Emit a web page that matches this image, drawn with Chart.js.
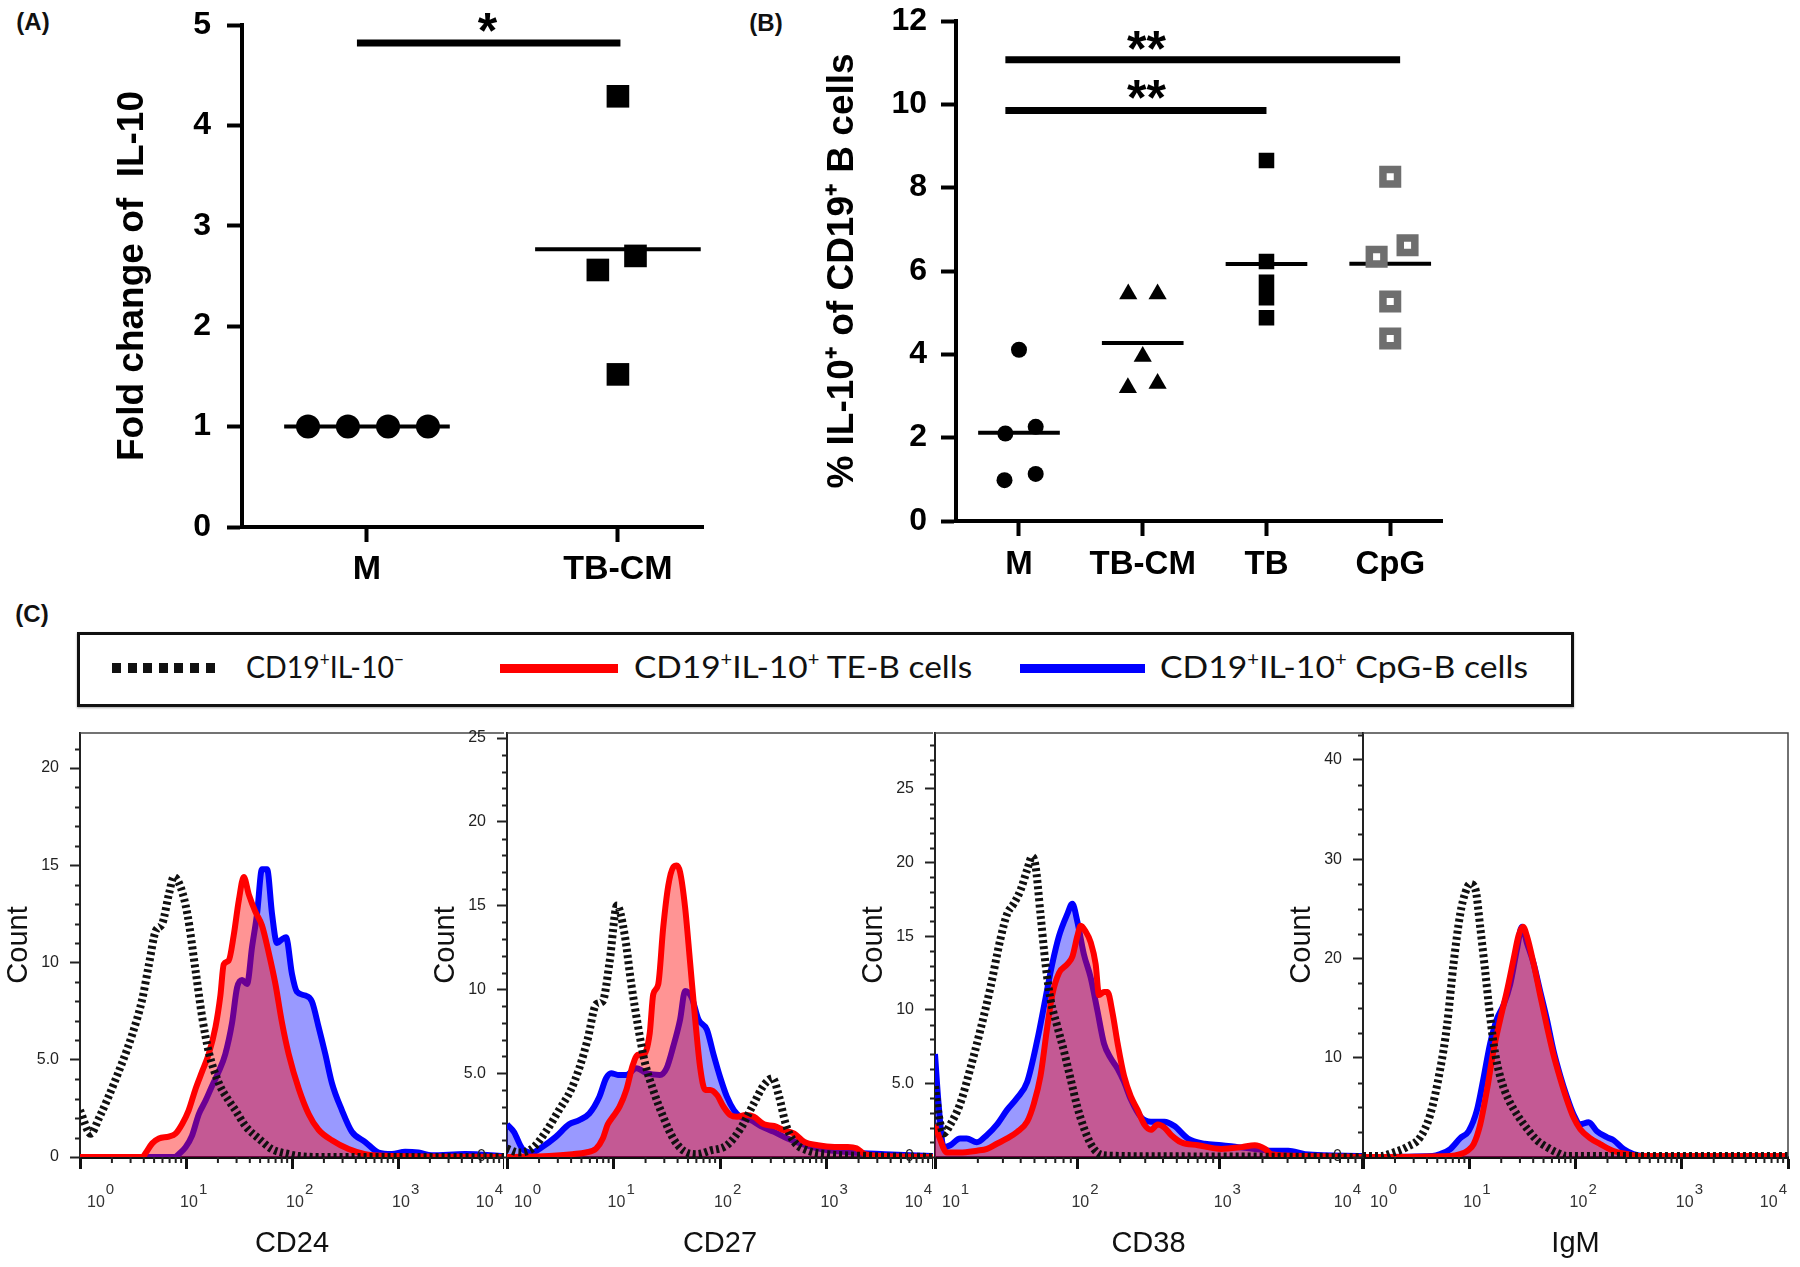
<!DOCTYPE html>
<html>
<head>
<meta charset="utf-8">
<script src="https://cdn.jsdelivr.net/npm/chart.js@4.4.1/dist/chart.umd.min.js"></script>
<style>
  html, body { margin: 0; padding: 0; background: #fff; }
  #page { position: relative; width: 1800px; height: 1267px; overflow: hidden; background: #fff; font-family: 'Liberation Sans', Arial, sans-serif; }
  canvas { position: absolute; }
  .tag { position: absolute; font-weight: bold; font-size: 24px; color: #111; transform: translate(-50%, -50%); }
  #legend { position: absolute; left: 77px; top: 632px; width: 1497px; height: 75px; box-sizing: border-box; border: 3px solid #111; box-shadow: 0 1px 2px rgba(0,0,0,0.35); }
  .lg-line { position: absolute; top: 28.5px; height: 9px; }
  .lg-dots { position: absolute; top: 28px; height: 10px; }
  .lg-text { position: absolute; top: 31px; font-family: Lato, 'Open Sans', sans-serif; font-size: 31px; color: #111; white-space: nowrap; transform-origin: left center; transform: translateY(-50%); line-height: 1; }
  .lg-text sup { font-size: 0.6em; vertical-align: 0.6em; line-height: 0; }
</style>
</head>
<body>
<div id="page">
  <div class="tag" style="left:33px; top:22px;">(A)</div>
  <div class="tag" style="left:766px; top:23px;">(B)</div>
  <div class="tag" style="left:32px; top:614px;">(C)</div>

  <canvas id="chartA" width="720" height="600" style="left:0; top:0;"></canvas>
  <canvas id="chartB" width="720" height="600" style="left:740px; top:0;"></canvas>

  <div id="legend">
    <div class="lg-dots" style="left:32px; width:103px; background: repeating-linear-gradient(90deg, #111 0 9px, transparent 9px 15.6px);"></div>
    <div class="lg-text" data-w="158" style="left:166px;">CD19<sup>+</sup>IL-10<sup>−</sup></div>
    <div class="lg-line" style="left:420px; width:118px; background:#ff0000;"></div>
    <div class="lg-text" data-w="338" style="left:554px;">CD19<sup>+</sup>IL-10<sup>+</sup> TE-B cells</div>
    <div class="lg-line" style="left:940px; width:125px; background:#0000ff;"></div>
    <div class="lg-text" data-w="368" style="left:1080px;">CD19<sup>+</sup>IL-10<sup>+</sup> CpG-B cells</div>
  </div>

  <canvas id="histCD24" width="504" height="542" style="left:0; top:725px;"></canvas>
  <canvas id="histCD27" width="506" height="542" style="left:427px; top:725px;"></canvas>
  <canvas id="histCD38" width="507" height="542" style="left:855px; top:725px;"></canvas>
  <canvas id="histIgM" width="508" height="542" style="left:1283px; top:725px;"></canvas>
</div>

<script>
// ── Data: panel A (fold change of IL-10) ─────────────────────────────────
const groupsA = ['M', 'TB-CM'];
const foldM = [1.0, 1.0, 1.0, 1.0];
const foldTBCM = [4.29, 2.56, 2.70, 1.52];
const jitterA_M = [-0.235, -0.076, 0.084, 0.243];
const jitterA_TBCM = [0.0, -0.08, 0.07, 0.0];
const yTicksA = [0, 1, 2, 3, 4, 5];
const sigA = [{ from: 0.96, to: 2.01, y: 4.82, text: '*', tx: 1.48, ty: 5.0 }];

// ── Data: panel B (% IL-10+ of CD19+ B cells) ────────────────────────────
const groupsB = ['M', 'TB-CM', 'TB', 'CpG'];
const pctM = [4.11, 2.10, 2.26, 0.98, 1.13];
const pctTBCM = [5.45, 5.45, 3.95, 3.20, 3.30];
const pctTB = [8.65, 6.23, 5.73, 5.36, 4.88];
const pctCpG = [8.26, 6.34, 6.62, 5.27, 4.38];
const jitterB_M = [0.0, -0.11, 0.135, -0.117, 0.135];
const jitterB_TBCM = [-0.117, 0.12, 0.0, -0.12, 0.12];
const jitterB_TB = [0, 0, 0, 0, 0];
const jitterB_CpG = [0.0, -0.11, 0.14, 0.0, 0.0];
const yTicksB = [0, 2, 4, 6, 8, 10, 12];
const sigB = [
    { from: 0.89, to: 4.08, y: 11.07, text: '**', tx: 2.03, ty: 11.48 },
    { from: 0.89, to: 3.0, y: 9.85, text: '**', tx: 2.03, ty: 10.29 }
];

// ── Data: panel C histograms, [intensity, count] ─────────────────────────
const decades = [1, 10, 100, 1000, 10000];

const cd24Neg = [[1, 2.4], [1.26, 1.2], [1.51, 2.0], [2.17, 4.0], [3.11, 6.3], [3.86, 8.1], [4.47, 9.9], [5.16, 11.6], [5.97, 12.0], [6.89, 13.5], [7.68, 14.4], [8.87, 13.9], [10.3, 12.5], [12.3, 9.6], [14.2, 7.2], [16.4, 5.4], [20.4, 3.8], [25.3, 2.9], [29.3, 2.4], [36.3, 1.6], [48.5, 0.95], [64.8, 0.4], [93, 0.15], [116, 0.05], [200, 0], [10000, 0]];
const cd24TE = [[1, 0], [3.9, 0], [4.16, 0.2], [4.8, 0.7], [5.55, 0.95], [6.89, 1.05], [7.96, 1.2], [9.2, 1.7], [10.6, 2.4], [12.3, 3.5], [14.2, 4.4], [16.4, 5.3], [19.0, 6.7], [21.1, 8.3], [22.7, 9.9], [25.3, 10.1], [28.2, 11.4], [31.5, 13.2], [35.1, 14.4], [39.1, 13.5], [45.2, 12.6], [52.1, 11.9], [60.3, 10.5], [69.7, 8.9], [80.5, 6.9], [93, 5.3], [116, 3.5], [144, 2.2], [178, 1.4], [238, 0.86], [342, 0.41], [491, 0.15], [1011, 0.05], [10000, 0]];
const cd24CpG = [[1, 0], [7.8, 0], [8.56, 0.15], [9.9, 0.5], [11.4, 1.1], [13.2, 2.2], [15.3, 2.9], [17.6, 3.65], [20.4, 4.4], [23.5, 5.3], [27.2, 6.9], [30.3, 8.7], [33.8, 9.1], [37.7, 8.9], [42, 10.8], [46.8, 12.5], [52.1, 14.8], [58.2, 14.8], [64.8, 12.5], [72.2, 11.0], [80.5, 11.2], [87.8, 11.3], [100, 9.4], [111, 8.5], [134, 8.3], [154, 8.0], [178, 6.7], [206, 5.3], [238, 3.8], [296, 2.4], [367, 1.3], [491, 0.77], [655, 0.23], [875, 0.15], [1169, 0.27], [1560, 0.23], [2083, 0.09], [4295, 0.15], [10000, 0.05]];

const cd27Neg = [[1, 0.5], [1.29, 0.27], [1.72, 0.5], [2.31, 1.5], [3.08, 2.8], [3.98, 4.0], [4.77, 5.3], [5.71, 7.0], [6.86, 9.1], [7.93, 9.3], [9.17, 11.6], [10.8, 15.0], [12.7, 13.3], [14.7, 10.3], [17, 7.8], [19.6, 5.7], [23.6, 4.0], [29.3, 2.4], [36.4, 1.1], [45.3, 0.38], [60.6, 0.17], [81, 0.38], [116, 0.7], [156, 1.7], [208, 3.2], [259, 4.3], [311, 4.7], [359, 3.6], [415, 1.95], [498, 0.9], [666, 0.38], [1030, 0.17], [2460, 0.06], [10000, 0]];
const cd27TE = [[1, 0], [2.48, 0.06], [4.12, 0.17], [5.51, 0.27], [6.86, 0.5], [7.93, 1.1], [8.84, 1.95], [9.86, 2.4], [11.4, 3.0], [13.2, 4.0], [15.2, 5.5], [17, 6.1], [19, 6.1], [21.9, 7.4], [23.6, 9.7], [26.3, 10.3], [29.3, 13.7], [32.7, 16.2], [36.4, 17.3], [39.2, 17.4], [42.2, 17.0], [47, 14.9], [52.4, 11.6], [58.5, 8.2], [65.2, 5.3], [72.6, 4.0], [81, 4.0], [93.7, 3.7], [108, 3.0], [125, 2.5], [145, 2.4], [174, 2.5], [208, 2.4], [259, 1.95], [322, 1.85], [401, 1.6], [498, 1.4], [619, 0.9], [828, 0.7], [1190, 0.6], [1590, 0.6], [1910, 0.52], [2290, 0.17], [3540, 0.06], [10000, 0]];
const cd27CpG = [[1, 1.95], [1.16, 1.5], [1.39, 0.5], [1.72, 0.27], [2.14, 0.6], [2.87, 1.2], [3.83, 1.95], [4.77, 2.2], [5.93, 2.6], [7.37, 3.6], [8.52, 4.7], [9.5, 5.0], [11, 4.9], [13.2, 4.9], [16.4, 5.3], [20.4, 5.0], [27.2, 4.9], [31.5, 5.3], [36.4, 6.6], [42.2, 8.2], [47, 9.9], [54.3, 9.5], [62.8, 8.2], [75.3, 7.6], [87.1, 6.1], [101, 4.7], [116, 3.6], [135, 2.8], [156, 2.4], [194, 2.2], [241, 1.85], [322, 1.5], [431, 1.1], [575, 0.8], [891, 0.48], [1710, 0.27], [3540, 0.17], [10000, 0.06]];

const cd38Neg = [[10, 4.8], [10.6, 2.9], [11.5, 1.6], [12.8, 2.2], [15, 3.6], [17.7, 6.0], [20.8, 8.6], [24.5, 11.5], [28.8, 14.8], [32.1, 16.5], [35.7, 17.2], [39.8, 18.1], [44.4, 19.5], [48.1, 20.4], [50.8, 19.8], [55.1, 16.5], [59.8, 13.1], [64.8, 10.7], [72.2, 8.9], [80.5, 7.2], [89.7, 5.3], [100, 3.4], [111, 2.0], [124, 0.9], [138, 0.3], [163, 0.1], [348, 0.05], [10000, 0]];
const cd38TE = [[10, 2.2], [10.8, 1.26], [12.1, 0.3], [15, 0.3], [19.7, 0.43], [23.2, 0.55], [27.2, 0.9], [32.1, 1.26], [37.7, 1.7], [44.4, 2.4], [49.4, 3.6], [55.1, 5.5], [61.4, 8.8], [66.6, 11.0], [74.3, 12.5], [85, 13.1], [92.2, 13.6], [100, 15.0], [105.6, 15.7], [114.6, 15.3], [124, 14.6], [134.5, 13.1], [142, 11.0], [154, 11.2], [163, 11.2], [176.6, 9.8], [192, 7.7], [213, 5.5], [238, 4.1], [265, 3.2], [296, 2.2], [329, 1.85], [367, 2.2], [409, 2.0], [456, 1.5], [536, 1.0], [703, 0.8], [1028, 0.55], [1422, 0.67], [1766, 0.8], [2080, 0.55], [2317, 0.19], [3981, 0.07], [10000, 0]];
const cd38CpG = [[10, 7.0], [10.6, 3.6], [11.5, 0.67], [12.8, 0.8], [15, 1.26], [16.7, 1.26], [19.7, 1.0], [23.2, 1.5], [27.2, 2.2], [32.1, 3.2], [37.7, 4.0], [44.4, 5.1], [52.2, 7.9], [59.8, 10.8], [66.6, 13.1], [74.3, 15.0], [85, 16.5], [92.2, 17.2], [100, 16.0], [111, 13.8], [124, 12.2], [138, 10.0], [154, 7.7], [172, 6.7], [192, 6.0], [213, 5.1], [238, 3.9], [280, 2.7], [329, 2.4], [409, 2.4], [481, 2.1], [598, 1.26], [783, 0.9], [1028, 0.8], [1346, 0.67], [1766, 0.55], [2317, 0.43], [3034, 0.43], [3981, 0.19], [10000, 0.07]];

const igmNeg = [[1, 0.1], [1.46, 0.1], [1.94, 0.46], [2.59, 1.0], [3.46, 2.0], [4.3, 4.3], [5.34, 8.9], [6.17, 13.2], [7.12, 19.5], [8.23, 24.5], [9.17, 26.6], [10.2, 27.5], [11.4, 27.0], [12.7, 23.1], [14.1, 18.8], [15.7, 14.2], [17.6, 10.3], [20.3, 7.5], [23.4, 5.8], [28.1, 4.3], [34.8, 2.9], [43.3, 1.7], [53.7, 1.0], [66.7, 0.46], [82.8, 0.1], [10000, 0.1]];
const igmTE = [[1, 0], [6.63, 0.1], [8.23, 0.3], [9.51, 0.6], [11, 1.3], [12.7, 3.3], [14.7, 6.8], [16.9, 10.7], [19.6, 13.9], [22.6, 16.7], [26.1, 19.9], [29.1, 22.3], [32, 23.2], [34.8, 22.3], [40.3, 19.5], [46.5, 16.3], [53.7, 13.2], [62.1, 10.3], [71.8, 7.9], [82.8, 5.8], [95.7, 4.0], [111, 2.8], [137, 1.9], [171, 1.3], [228, 0.6], [304, 0.3], [405, 0.1], [10000, 0.1]];
const igmCpG = [[1, 0], [4.5, 0.1], [5.34, 0.3], [6.63, 0.8], [8.23, 1.9], [9.86, 2.6], [11.8, 4.7], [13.6, 7.9], [15.7, 11.4], [18.2, 13.9], [21, 15.3], [24.3, 17.4], [28.1, 20.9], [31.3, 23.2], [34.8, 21.6], [40.3, 19.5], [46.5, 16.7], [53.7, 13.9], [62.1, 10.7], [71.8, 8.2], [82.8, 6.1], [95.7, 4.3], [111, 3.3], [133, 3.5], [159, 2.6], [197, 2.0], [228, 1.7], [283, 0.8], [351, 0.3], [469, 0.1], [10000, 0.1]];

// ── Defaults ─────────────────────────────────────────────────────────────
const FONT = "'Liberation Sans', Arial, sans-serif";
Chart.defaults.font.family = FONT;
Chart.defaults.color = '#000';
Chart.defaults.animation = false;
Chart.defaults.events = [];
Chart.defaults.plugins.legend.display = false;
Chart.defaults.plugins.tooltip.enabled = false;

const mean = a => a.reduce((s, v) => s + v, 0) / a.length;
const pts = (vals, jit, g) => vals.map((v, i) => ({ x: g + jit[i], y: v }));
const meanLine = (vals, g) => {
    const m = mean(vals);
    return [{ x: g - 0.33, y: m }, { x: g + 0.33, y: m }];
};
const lineSet = data => ({ data, showLine: true, borderColor: '#000', borderWidth: 4, pointRadius: 0 });
const sigSets = sig => sig.map(s => ({ ...lineSet([{ x: s.from, y: s.y }, { x: s.to, y: s.y }]), borderWidth: 7 }));

// keep the layout padding exact: no extra room for overflowing tick labels
const noOverflow = s => { s.paddingTop = 0; s.paddingBottom = 0; s.paddingLeft = 0; s.paddingRight = 0; };

// significance asterisks
function sigText(sig, size) {
    return {
        id: 'sigText',
        afterDatasetsDraw(chart) {
            const { ctx, scales: { x, y } } = chart;
            ctx.save();
            ctx.font = `bold ${size}px ${FONT}`;
            ctx.fillStyle = '#000';
            ctx.textAlign = 'center';
            ctx.textBaseline = 'alphabetic';
            sig.forEach(s => ctx.fillText(s.text, x.getPixelForValue(s.tx), y.getPixelForValue(s.ty) + size * 0.46));
            ctx.restore();
        }
    };
}

function dotOptions(o) {
    const axisGrid = { drawOnChartArea: false, tickLength: 15, tickWidth: 4, tickColor: '#000' };
    return {
        responsive: false,
        layout: { padding: { top: o.padTop, right: o.padRight, left: 0, bottom: 0 } },
        scales: {
            x: {
                type: 'linear', min: o.xMin, max: o.xMax,
                afterBuildTicks: s => { s.ticks = o.groups.map((g, i) => ({ value: i + 1 })); },
                ticks: { callback: (v, i) => o.groups[i], font: { size: o.catSize, weight: 'bold' }, color: '#000', padding: o.catPad, maxRotation: 0, autoSkip: false },
                grid: axisGrid,
                border: { color: '#000', width: 4 },
                afterFit: s => { s.height = o.xHeight; noOverflow(s); }
            },
            y: {
                min: 0, max: o.yMax,
                afterBuildTicks: s => { s.ticks = o.yTicks.map(v => ({ value: v })); },
                ticks: { font: { size: o.tickSize, weight: 'bold' }, color: '#000', padding: o.tickPad },
                grid: axisGrid,
                border: { color: '#000', width: 4 },
                title: { display: true, text: o.title, font: { size: o.titleSize, weight: 'bold' }, color: '#000', padding: { top: o.titlePad, bottom: 0 } },
                afterFit: s => { s.width = o.yWidth; noOverflow(s); }
            }
        }
    };
}

// ── Panel A ──────────────────────────────────────────────────────────────
new Chart(document.getElementById('chartA'), {
    type: 'scatter',
    data: {
        datasets: [
            { data: pts(foldM, jitterA_M, 1), pointStyle: 'circle', pointRadius: 12, backgroundColor: '#000', borderWidth: 0 },
            { data: pts(foldTBCM, jitterA_TBCM, 2), pointStyle: 'rect', pointRadius: 16, backgroundColor: '#000', borderWidth: 0 },
            lineSet(meanLine(foldM, 1)),
            lineSet(meanLine(foldTBCM, 2)),
            ...sigSets(sigA)
        ]
    },
    options: dotOptions({
        groups: groupsA, xMin: 0.502, xMax: 2.339, yMax: 5, yTicks: yTicksA,
        padTop: 25, padRight: 17, xHeight: 73, yWidth: 242,
        tickSize: 32, tickPad: 16, catSize: 34, catPad: 7,
        title: 'Fold change of  IL-10', titleSize: 37, titlePad: 111
    }),
    plugins: [sigText(sigA, 50)]
});

// ── Panel B ──────────────────────────────────────────────────────────────
new Chart(document.getElementById('chartB'), {
    type: 'scatter',
    data: {
        datasets: [
            { data: pts(pctM, jitterB_M, 1), pointStyle: 'circle', pointRadius: 8, backgroundColor: '#000', borderWidth: 0 },
            { data: pts(pctTBCM, jitterB_TBCM, 2), pointStyle: 'triangle', pointRadius: 10.5, backgroundColor: '#000', borderWidth: 0 },
            { data: pts(pctTB, jitterB_TB, 3), pointStyle: 'rect', pointRadius: 11, backgroundColor: '#000', borderWidth: 0 },
            { data: pts(pctCpG, jitterB_CpG, 4), pointStyle: 'rect', pointRadius: 10.3, backgroundColor: '#fff', borderColor: '#6e6e6e', borderWidth: 7.5 },
            lineSet(meanLine(pctM, 1)),
            lineSet(meanLine(pctTBCM, 2)),
            lineSet(meanLine(pctTB, 3)),
            lineSet(meanLine(pctCpG, 4)),
            ...sigSets(sigB)
        ]
    },
    options: dotOptions({
        groups: groupsB, xMin: 0.491, xMax: 4.42, yMax: 12, yTicks: yTicksB,
        padTop: 21, padRight: 10, xHeight: 79, yWidth: 216,
        tickSize: 32, tickPad: 14, catSize: 33, catPad: 9,
        title: '% IL-10⁺ of CD19⁺ B cells', titleSize: 37, titlePad: 81
    }),
    plugins: [sigText(sigB, 50)]
});

// ── Panel C: flow histograms ─────────────────────────────────────────────
const toXY = arr => arr.map(([x, y]) => ({ x, y }));

function histChart(id, c) {
    const decor = {
        id: 'histDecor',
        afterDraw(chart) {
            const { ctx, chartArea: ca, scales: { x, y } } = chart;
            ctx.save();
            ctx.strokeStyle = '#222';
            // minor x ticks
            ctx.lineWidth = 2;
            ctx.beginPath();
            for (let k = Math.round(Math.log10(x.min)); k < 4; k++) {
                for (let m = 2; m <= 9; m++) {
                    const px = x.getPixelForValue(m * Math.pow(10, k));
                    ctx.moveTo(px, ca.bottom);
                    ctx.lineTo(px, ca.bottom + 6);
                }
            }
            // minor y ticks
            for (let v = c.yMinor; v <= y.max; v += c.yMinor) {
                if (c.yTicks.includes(v)) continue;
                const py = Math.round(y.getPixelForValue(v)) + 0.5;
                ctx.moveTo(ca.left - 5, py);
                ctx.lineTo(ca.left, py);
            }
            ctx.stroke();
            // frame
            ctx.strokeStyle = '#444';
            ctx.lineWidth = 1.5;
            ctx.beginPath();
            ctx.moveTo(ca.left, ca.top);
            ctx.lineTo(ca.right, ca.top);
            if (c.last) { ctx.lineTo(ca.right, ca.bottom); }
            ctx.stroke();
            // decade labels 10^k
            const shown = decades.filter(v => v >= x.min);
            ctx.fillStyle = '#333';
            ctx.textBaseline = 'middle';
            ctx.textAlign = 'left';
            shown.forEach((v, i) => {
                const px = x.getPixelForValue(v);
                const exp = String(Math.round(Math.log10(v)));
                ctx.font = `16px ${FONT}`;
                const w10 = ctx.measureText('10').width;
                ctx.font = `15px ${FONT}`;
                const we = ctx.measureText(exp).width;
                const total = w10 + 1 + we;
                let start = px + 3 - w10 / 2;
                if (i === 0) start = px + 7;
                if (i === shown.length - 1) start = px - total - 1;
                ctx.font = `16px ${FONT}`;
                ctx.fillText('10', start, ca.bottom + 46);
                ctx.font = `15px ${FONT}`;
                ctx.fillText(exp, start + w10 + 1, ca.bottom + 33);
            });
            ctx.restore();
        }
    };

    const curve = { pointRadius: 0, cubicInterpolationMode: 'monotone', borderJoinStyle: 'round' };
    return new Chart(document.getElementById(id), {
        type: 'line',
        data: {
            datasets: [
                { ...curve, data: toXY(c.neg), borderColor: '#111', borderWidth: 8, borderDash: [3, 3], borderCapStyle: 'butt', fill: false },
                { ...curve, data: toXY(c.te), borderColor: '#ff0000', backgroundColor: 'rgba(255,0,0,0.42)', borderWidth: 6, fill: 'origin' },
                { ...curve, data: toXY(c.cpg), borderColor: '#0000ff', backgroundColor: 'rgba(0,0,255,0.40)', borderWidth: 6, fill: 'origin' }
            ]
        },
        options: {
            responsive: false,
            layout: { padding: { top: 8, right: c.last ? 3 : 0, left: 0, bottom: 0 } },
            scales: {
                x: {
                    type: 'logarithmic', min: c.xMin, max: 10000,
                    afterBuildTicks: s => { s.ticks = decades.filter(v => v >= c.xMin).map(v => ({ value: v })); },
                    ticks: { display: false },
                    grid: { drawOnChartArea: false, tickLength: 12, tickWidth: 3, tickColor: '#111' },
                    border: { color: '#111', width: 3 },
                    title: { display: true, text: c.title, font: { size: 29, lineHeight: 1 }, color: '#111', padding: { top: 0, bottom: 9 } },
                    afterFit: s => { s.height = 110; noOverflow(s); }
                },
                y: {
                    min: 0, max: c.yMax,
                    afterBuildTicks: s => { s.ticks = c.yTicks.map(v => ({ value: v })); },
                    ticks: { callback: v => (v === 5 ? '5.0' : String(v)), font: { size: 16 }, color: '#222', padding: 11 },
                    grid: { drawOnChartArea: false, tickLength: 10, tickWidth: 2, tickColor: '#222' },
                    border: { color: '#222', width: 2 },
                    title: { display: true, text: 'Count', font: { size: 29 }, color: '#111', padding: { top: 2, bottom: 0 } },
                    afterFit: s => { s.width = 80; noOverflow(s); }
                }
            }
        },
        plugins: [decor]
    });
}

histChart('histCD24', { neg: cd24Neg, te: cd24TE, cpg: cd24CpG, xMin: 1, yMax: 21.8, yTicks: [0, 5, 10, 15, 20], yMinor: 1, title: 'CD24' });
histChart('histCD27', { neg: cd27Neg, te: cd27TE, cpg: cd27CpG, xMin: 1, yMax: 25.3, yTicks: [0, 5, 10, 15, 20, 25], yMinor: 1, title: 'CD27' });
histChart('histCD38', { neg: cd38Neg, te: cd38TE, cpg: cd38CpG, xMin: 10, yMax: 28.8, yTicks: [0, 5, 10, 15, 20, 25], yMinor: 1, title: 'CD38' });
histChart('histIgM', { neg: igmNeg, te: igmTE, cpg: igmCpG, xMin: 1, yMax: 42.7, yTicks: [0, 10, 20, 30, 40], yMinor: 2.5, title: 'IgM', last: true });

// legend text: squeeze to the measured widths of the original
document.querySelectorAll('.lg-text').forEach(el => {
    const w = el.getBoundingClientRect().width;
    el.style.transform = `translateY(-50%) scaleX(${(+el.dataset.w / w).toFixed(3)})`;
});
</script>
</body>
</html>
